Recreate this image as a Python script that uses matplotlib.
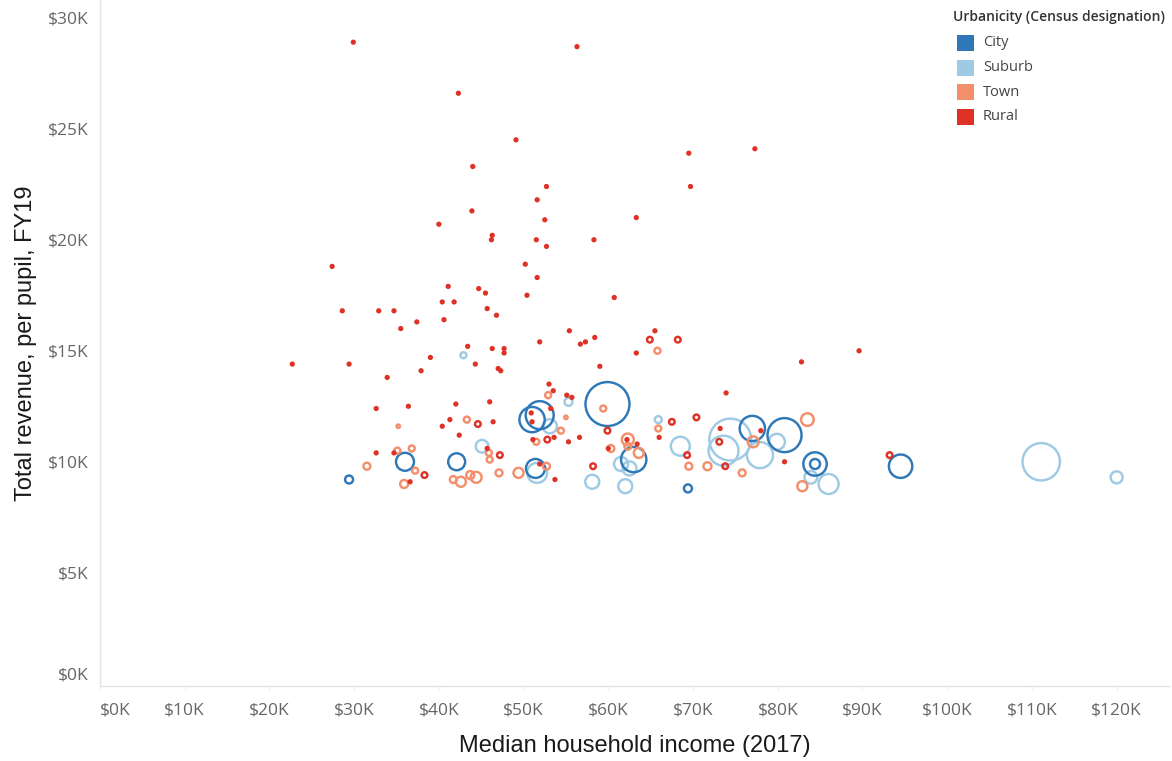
import matplotlib
matplotlib.use("Agg")
import matplotlib.pyplot as plt
from matplotlib.patches import Rectangle

# ---------------------------------------------------------------------------
# Data (median household income $K, total revenue per pupil $K, enrollment)
# ---------------------------------------------------------------------------
categories = ["City", "Suburb", "Town", "Rural"]
colors = {"City": "#2e78b7", "Suburb": "#9fcae3", "Town": "#f48f6c", "Rural": "#de3226"}

city_income = [29.4, 36.0, 42.1, 51.0, 51.9, 51.4, 59.9, 63.0, 69.4, 77.0, 80.8, 84.4, 84.4, 94.5]
city_rev = [9.2, 10.0, 10.0, 11.9, 12.1, 9.7, 12.6, 10.1, 8.8, 11.5, 11.2, 9.9, 9.9, 9.8]
city_enroll = [16, 81, 72, 160, 196, 90, 484, 160, 16, 160, 290, 137, 25, 137]

suburb_income = [42.9, 45.1, 53.1, 51.6, 55.3, 58.1, 61.5, 62.5, 62.0, 65.9,
                 68.5, 74.4, 73.6, 77.9, 79.9, 83.9, 86.0, 111.1, 120.0]
suburb_rev = [14.8, 10.7, 11.6, 9.5, 12.7, 9.1, 9.9, 9.7, 8.9, 11.9,
              10.7, 11.0, 10.5, 10.3, 10.9, 9.3, 9.0, 10.0, 9.3]
suburb_enroll = [9, 40, 50, 100, 16, 49, 49, 49, 49, 12,
                 90, 440, 225, 170, 64, 40, 100, 350, 36]

town_income = [31.5, 35.2, 35.1, 36.8, 37.2, 35.9, 41.7, 42.6, 43.7, 44.4,
               47.1, 49.4, 43.3, 45.9, 46.0, 52.7, 52.9, 55.0, 54.4, 51.5,
               59.4, 60.3, 62.3, 62.3, 63.6, 65.8, 65.9, 69.5, 71.7, 75.8,
               77.1, 83.5, 82.9]
town_rev = [9.8, 11.6, 10.5, 10.6, 9.6, 9.0, 9.2, 9.1, 9.4, 9.3,
            9.5, 9.5, 11.9, 10.4, 10.1, 9.8, 13.0, 12.0, 11.4, 10.9,
            12.4, 10.6, 11.0, 10.7, 10.4, 15.0, 11.5, 9.8, 9.8, 9.5,
            10.9, 11.9, 8.9]
town_enroll = [12, 3, 9, 9, 9, 16, 12, 25, 16, 30,
               12, 25, 9, 9, 9, 12, 9, 3, 9, 9,
               9, 12, 36, 12, 25, 9, 9, 12, 16, 12,
               30, 40, 25]

rural_income = [29.9, 56.3, 42.3, 49.1, 44.0, 69.5, 77.3, 69.7, 52.7, 51.6,
                52.5, 43.9, 40.0, 63.3, 46.3, 46.2, 51.5, 52.7, 58.3, 27.4,
                50.2, 51.6, 41.1, 44.7, 45.5, 50.4, 40.4, 41.8, 60.7, 28.6,
                32.9, 34.7, 45.7, 46.8, 35.5, 37.4, 40.6, 55.4, 56.7, 57.3,
                58.4, 51.9, 22.7, 29.4, 43.4, 46.3, 47.7, 47.7, 39.0, 44.3,
                47.0, 47.3, 33.9, 37.9, 65.5, 63.3, 89.6, 82.8, 59.0, 53.0,
                53.5, 55.1, 55.7, 73.9, 32.6, 36.4, 42.0, 46.0, 50.9, 51.0,
                53.2, 41.3, 46.4, 40.4, 42.4, 51.1, 53.6, 55.3, 56.6, 66.0,
                73.2, 78.0, 32.6, 34.7, 45.7, 51.9, 53.7, 36.6, 60.0, 62.2,
                63.4, 80.8,
                44.6, 38.3, 47.2, 52.8, 59.9, 58.2, 64.9, 68.2, 67.5, 70.4,
                69.3, 73.1, 73.8, 93.2]
rural_rev = [28.9, 28.7, 26.6, 24.5, 23.3, 23.9, 24.1, 22.4, 22.4, 21.8,
             20.9, 21.3, 20.7, 21.0, 20.2, 20.0, 20.0, 19.7, 20.0, 18.8,
             18.9, 18.3, 17.9, 17.8, 17.6, 17.5, 17.2, 17.2, 17.4, 16.8,
             16.8, 16.8, 16.9, 16.6, 16.0, 16.3, 16.4, 15.9, 15.3, 15.4,
             15.6, 15.4, 14.4, 14.4, 15.2, 15.1, 15.1, 14.9, 14.7, 14.4,
             14.2, 14.1, 13.8, 14.1, 15.9, 14.9, 15.0, 14.5, 14.3, 13.5,
             13.2, 13.0, 12.9, 13.1, 12.4, 12.5, 12.6, 12.7, 12.2, 11.8,
             12.4, 11.9, 11.8, 11.6, 11.2, 11.0, 11.1, 10.9, 11.1, 11.1,
             11.5, 11.4, 10.4, 10.4, 10.6, 9.9, 9.2, 9.1, 10.6, 11.0,
             10.8, 10.0,
             11.7, 9.4, 10.3, 11.0, 11.4, 9.8, 15.5, 15.5, 11.8, 12.0,
             10.3, 10.9, 9.8, 10.3]
rural_enroll = [2, 2, 2, 2, 2, 2, 2, 2, 2, 2,
                2, 2, 2, 2, 2, 2, 2, 2, 2, 2,
                2, 2, 2, 2, 2, 2, 2, 2, 2, 2,
                2, 2, 2, 2, 2, 2, 2, 2, 2, 2,
                2, 2, 2, 2, 2, 2, 2, 2, 2, 2,
                2, 2, 2, 2, 2, 2, 2, 2, 2, 2,
                2, 2, 2, 2, 2, 2, 2, 2, 2, 2,
                2, 2, 2, 2, 2, 2, 2, 2, 2, 2,
                2, 2, 2, 2, 2, 2, 2, 2, 2, 2,
                2, 2,
                8, 8, 8, 8, 8, 8, 8, 8, 8, 8,
                8, 8, 8, 8]

x_ticks = [0, 10, 20, 30, 40, 50, 60, 70, 80, 90, 100, 110, 120]
y_ticks = [0, 5, 10, 15, 20, 25, 30]

# ---------------------------------------------------------------------------
W, H = 1172, 761
fig = plt.figure(figsize=(W / 100, H / 100), dpi=100)
ax = fig.add_axes([100 / W, 75 / H, 1070 / W, 686 / H])

tick_font = ["Open Sans", "DejaVu Sans"]
title_font = ["Liberation Sans", "DejaVu Sans"]

size_scale = 2.07  # enrollment units -> marker area (pt^2)
groups = [
    ("Suburb", suburb_income, suburb_rev, suburb_enroll),
    ("City", city_income, city_rev, city_enroll),
    ("Town", town_income, town_rev, town_enroll),
    ("Rural", rural_income, rural_rev, rural_enroll),
]
for name, xs, ys, ns in groups:
    ax.scatter(xs, ys, s=[n * size_scale for n in ns], facecolors="none",
               edgecolors=colors[name], linewidths=1.75, zorder=3)

ax.set_xlim(0, 126.3)
ax.set_ylim(-0.1, 30.8)

for side in ["top", "right"]:
    ax.spines[side].set_visible(False)
for side in ["left", "bottom"]:
    ax.spines[side].set_color("#e4e4e4")
    ax.spines[side].set_linewidth(1.0)

ax.set_xticks(x_ticks)
ax.set_xticklabels([f"${v}K" for v in x_ticks])
ax.set_yticks(y_ticks)
ax.set_yticklabels([f"${v}K" for v in y_ticks])
ax.tick_params(axis="x", length=3, color="#eeeeee", pad=9, labelsize=12.5, labelcolor="#666666")
ax.tick_params(axis="y", length=0, pad=8, labelsize=12.5, labelcolor="#666666")
for lab in ax.get_xticklabels() + ax.get_yticklabels():
    lab.set_family(tick_font)
ax.get_xticklabels()[0].set_horizontalalignment("left")
ax.get_yticklabels()[0].set_verticalalignment("bottom")

ax.set_xlabel("Median household income (2017)", fontsize=17, family=title_font,
              color="#1a1a1a", labelpad=12)
ax.set_ylabel("Total revenue, per pupil, FY19", fontsize=17, family=title_font,
              color="#1a1a1a", labelpad=8)

# Legend (colour legend, top right)
fig.text(953 / W, 1 - 17 / H, "Urbanicity (Census designation)", fontsize=10,
         family=tick_font, fontweight="semibold", color="#333333", va="center")
for i, name in enumerate(categories):
    yc = 43 + i * 24.5
    fig.add_artist(Rectangle((957 / W, 1 - (yc + 8) / H), 17 / W, 16 / H,
                             transform=fig.transFigure, facecolor=colors[name],
                             edgecolor="none"))
    fig.text(983 / W, 1 - yc / H, name, fontsize=10.5, family=tick_font,
             color="#444444", va="center")

fig.savefig("out.png", dpi=100)
